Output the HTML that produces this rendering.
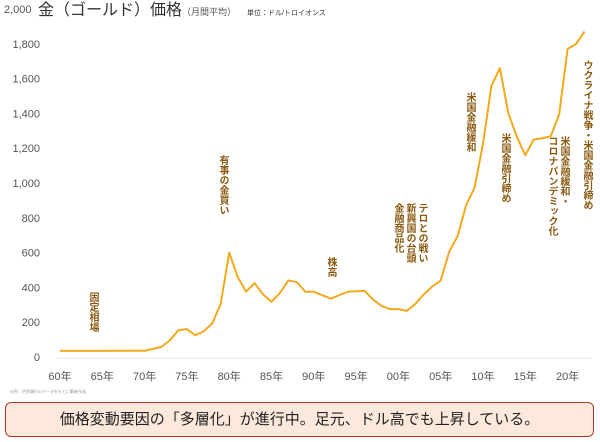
<!DOCTYPE html>
<html><head><meta charset="utf-8"><style>
body{margin:0;width:600px;height:442px;background:#fff;overflow:hidden;font-family:"Liberation Sans","Noto Sans CJK JP",sans-serif;}
.ann{position:absolute;writing-mode:vertical-rl;font-size:10px;font-weight:bold;color:#8a5a10;line-height:12px;letter-spacing:0px;}
</style></head><body>
<svg width="600" height="442" style="position:absolute;left:0;top:0">
<g id="axes"></g><g id="series"></g>
<text x="38" y="15" font-size="16" fill="#333" font-family="Liberation Sans, Noto Sans CJK JP, sans-serif">金（ゴールド）価格<tspan font-size="9" fill="#555">（月間平均）</tspan></text>
<text x="247" y="15" font-size="7" fill="#333" font-family="Liberation Sans, Noto Sans CJK JP, sans-serif">単位：ドル/トロイオンス</text>
<text x="10" y="393" font-size="4" fill="#999" font-family="Liberation Sans, Noto Sans CJK JP, sans-serif">出所：世界銀行のデータをもとに筆者作成</text>
</svg>
<div class="ann" style="left:86px;top:292px">固定相場</div>
<div class="ann" style="left:216px;top:155px">有事の金買い</div>
<div class="ann" style="left:324px;top:257px">株高</div>
<div class="ann" style="left:387px;top:203px;width:40px;height:80px">テロとの戦い<br>新興国の台頭<br>金融商品化</div>
<div class="ann" style="left:463px;top:92px">米国金融緩和</div>
<div class="ann" style="left:498px;top:133px">米国金融引締め</div>
<div class="ann" style="left:545px;top:136px;height:160px">米国金融緩和・<br>コロナパンデミック化</div>
<div class="ann" style="left:580px;top:60px">ウクライナ戦争・米国金融引締め</div>
<div style="position:absolute;left:5px;top:402px;width:587px;height:33px;border:1.5px solid #b23a2a;border-radius:6px;background:#fde8dc;font-size:15px;color:#222;text-align:center;line-height:33px;">価格変動要因の「多層化」が進行中。足元、ドル高でも上昇している。</div>
<script>
const years=[1960,1965,1970,1972,1973,1974,1975,1976,1977,1978,1979,1980,1981,1982,1983,1984,1985,1986,1987,1988,1989,1990,1991,1992,1993,1994,1995,1996,1997,1998,1999,2000,2001,2002,2003,2004,2005,2006,2007,2008,2009,2010,2011,2012,2013,2014,2015,2016,2017,2018,2019,2020,2021,2022];
const prices=[35,35,36,58,97,154,160,125,148,193,307,600,460,376,424,360,317,368,440,430,375,375,355,335,355,375,378,380,331,294,275,275,265,305,360,405,440,604,695,872,972,1225,1560,1660,1400,1266,1160,1250,1257,1268,1393,1770,1799,1870];
const yTicks=[0,200,400,600,800,1000,1200,1400,1600,1800,2000];
const xTickYears=[1960,1965,1970,1975,1980,1985,1990,1995,2000,2005,2010,2015,2020];
const xTickLabels=["60年","65年","70年","75年","80年","85年","90年","95年","00年","05年","10年","15年","20年"];
const NS="http://www.w3.org/2000/svg";
const xs=y=>60+(y-1960)*8.46, ys=v=>357-v*0.174;
const ax=document.getElementById('axes'), se=document.getElementById('series');
function mk(tag,attrs,parent){const e=document.createElementNS(NS,tag);for(const k in attrs)e.setAttribute(k,attrs[k]);parent.appendChild(e);return e;}
const base=mk('line',{x1:56,x2:592,y1:ys(0)+1,y2:ys(0)+1,stroke:'#dde3ee','stroke-width':1},ax);


yTicks.forEach(v=>{
 const t=mk('text',{x:v===2000?4:40,y:ys(v)+4,'font-size':11,fill:'#555','text-anchor':v===2000?'start':'end','font-family':'Liberation Sans, sans-serif'},ax);
 t.textContent=v.toLocaleString('en-US');
 
 
});
xTickYears.forEach((y,i)=>{
 const t=mk('text',{x:xs(y),y:380,'font-size':11,fill:'#555','text-anchor':'middle','font-family':'Liberation Sans, Noto Sans CJK JP, sans-serif'},ax);
 t.textContent=xTickLabels[i];
 
 
});
const p=mk('polyline',{points:years.map((y,i)=>xs(y)+','+ys(prices[i])).join(' '),fill:'none',stroke:'#f2a91e','stroke-width':2,'stroke-linejoin':'round'},se);


</script>
</body></html>
